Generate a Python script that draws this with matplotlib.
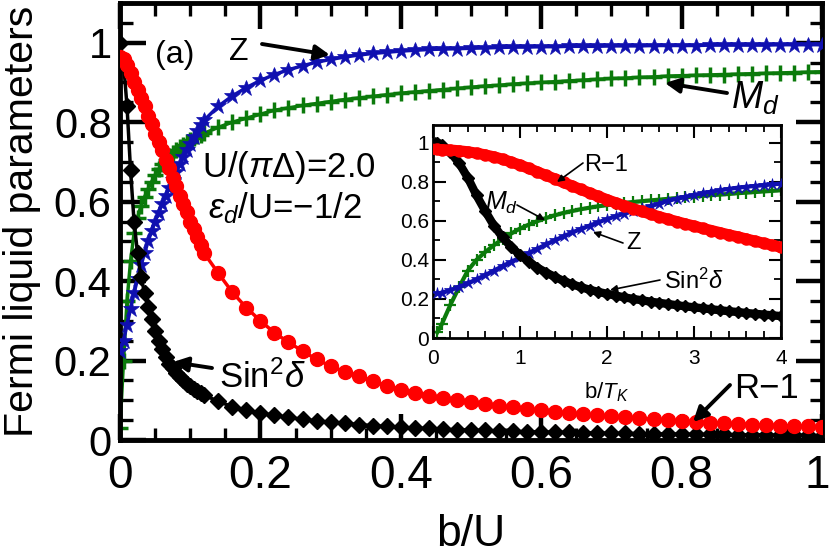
import matplotlib
matplotlib.use('Agg')
import matplotlib.pyplot as plt
import matplotlib.transforms as mtransforms
from matplotlib.ticker import MultipleLocator, FuncFormatter

plt.rcParams['font.family'] = ['Liberation Sans', 'DejaVu Sans']
plt.rcParams['mathtext.fontset'] = 'custom'
plt.rcParams['mathtext.rm'] = 'Liberation Sans'
plt.rcParams['mathtext.it'] = 'Liberation Sans:italic'
plt.rcParams['mathtext.bf'] = 'Liberation Sans:bold'

# ---------------- main panel data (x = b/U) ----------------
b_over_U = [0.000, 0.005, 0.010, 0.015, 0.020, 0.025, 0.030, 0.035, 0.040, 0.045,
            0.050, 0.055, 0.060, 0.065, 0.070, 0.075, 0.080, 0.085, 0.090, 0.095,
            0.100, 0.105, 0.110, 0.115, 0.120,
            0.14, 0.16, 0.18, 0.20, 0.22, 0.24, 0.26, 0.28, 0.30, 0.32, 0.34, 0.36,
            0.38, 0.40, 0.42, 0.44, 0.46, 0.48, 0.50, 0.52, 0.54, 0.56, 0.58, 0.60,
            0.62, 0.64, 0.66, 0.68, 0.70, 0.72, 0.74, 0.76, 0.78, 0.80, 0.82, 0.84,
            0.86, 0.88, 0.90, 0.92, 0.94, 0.96, 0.98, 1.00]

R_minus_1 = [0.965, 0.960, 0.945, 0.925, 0.900, 0.880, 0.860, 0.840, 0.815, 0.795,
             0.770, 0.750, 0.730, 0.705, 0.685, 0.660, 0.640, 0.615, 0.595, 0.575,
             0.550, 0.530, 0.510, 0.490, 0.470,
             0.420, 0.372, 0.333, 0.300, 0.270, 0.246, 0.224, 0.203, 0.186, 0.172,
             0.160, 0.148, 0.137, 0.127, 0.119, 0.112, 0.106, 0.100, 0.095, 0.090,
             0.086, 0.082, 0.078, 0.075, 0.071, 0.068, 0.065, 0.062, 0.060, 0.057,
             0.055, 0.052, 0.050, 0.048, 0.046, 0.044, 0.042, 0.041, 0.039, 0.038,
             0.036, 0.035, 0.034, 0.033]

sin2_delta = [1.000, 0.950, 0.840, 0.680, 0.550, 0.470, 0.410, 0.370, 0.335, 0.305,
              0.275, 0.250, 0.228, 0.208, 0.192, 0.180, 0.168, 0.158, 0.150, 0.142,
              0.135, 0.129, 0.123, 0.118, 0.113,
              0.097, 0.084, 0.075, 0.068, 0.062, 0.057, 0.052, 0.048, 0.045, 0.042,
              0.039, 0.036, 0.034, 0.032, 0.030, 0.029, 0.027, 0.026, 0.025, 0.024,
              0.023, 0.022, 0.021, 0.020, 0.020, 0.019, 0.018, 0.018, 0.017, 0.017,
              0.016, 0.016, 0.015, 0.015, 0.014, 0.014, 0.014, 0.013, 0.013, 0.013,
              0.012, 0.012, 0.012, 0.011]

Z_main = [0.225, 0.250, 0.290, 0.330, 0.370, 0.405, 0.440, 0.470, 0.500, 0.525,
          0.550, 0.572, 0.594, 0.615, 0.635, 0.655, 0.675, 0.694, 0.713, 0.730,
          0.746, 0.762, 0.777, 0.792, 0.805,
          0.840, 0.866, 0.887, 0.905, 0.920, 0.932, 0.942, 0.951, 0.958, 0.964,
          0.969, 0.973, 0.976, 0.979, 0.981, 0.983, 0.984, 0.985, 0.986, 0.987,
          0.988, 0.989, 0.989, 0.990, 0.990, 0.991, 0.991, 0.991, 0.992, 0.992,
          0.992, 0.993, 0.993, 0.993, 0.993, 0.994, 0.994, 0.994, 0.994, 0.994,
          0.995, 0.995, 0.995, 0.995]

Md_main = [0.030, 0.200, 0.350, 0.450, 0.520, 0.560, 0.590, 0.612, 0.632, 0.650,
           0.667, 0.682, 0.695, 0.705, 0.714, 0.722, 0.730, 0.737, 0.743, 0.749,
           0.754, 0.759, 0.764, 0.768, 0.772,
           0.787, 0.800, 0.810, 0.820, 0.830, 0.836, 0.842, 0.847, 0.852, 0.857,
           0.861, 0.865, 0.869, 0.873, 0.876, 0.879, 0.882, 0.885, 0.888, 0.891,
           0.893, 0.896, 0.898, 0.900, 0.902, 0.904, 0.906, 0.908, 0.910, 0.911,
           0.913, 0.914, 0.916, 0.917, 0.918, 0.919, 0.920, 0.921, 0.922, 0.923,
           0.924, 0.925, 0.926, 0.927]

# ---------------- inset data (x = b/T_K) ----------------
b_over_TK = [0.05, 0.1, 0.2, 0.3, 0.4, 0.5, 0.6, 0.7, 0.8, 0.9, 1.0, 1.1, 1.2, 1.3,
             1.4, 1.5, 1.6, 1.7, 1.8, 1.9, 2.0, 2.1, 2.2, 2.3, 2.4, 2.5, 2.6, 2.7,
             2.8, 2.9, 3.0, 3.1, 3.2, 3.3, 3.4, 3.5, 3.6, 3.7, 3.8, 3.9, 4.0]

R_inset = [0.965, 0.964, 0.962, 0.958, 0.953, 0.946, 0.937, 0.927, 0.915, 0.900,
           0.885, 0.868, 0.850, 0.832, 0.814, 0.796, 0.778, 0.760, 0.742, 0.725,
           0.708, 0.692, 0.677, 0.662, 0.648, 0.634, 0.621, 0.608, 0.596, 0.584,
           0.573, 0.561, 0.550, 0.539, 0.528, 0.518, 0.507, 0.496, 0.485, 0.475,
           0.464]

sin2_inset = [1.000, 0.990, 0.950, 0.895, 0.820, 0.730, 0.650, 0.575, 0.515, 0.465,
              0.425, 0.390, 0.360, 0.335, 0.313, 0.292, 0.275, 0.260, 0.247, 0.236,
              0.226, 0.217, 0.208, 0.200, 0.193, 0.186, 0.180, 0.174, 0.168, 0.162,
              0.157, 0.152, 0.147, 0.142, 0.137, 0.133, 0.128, 0.124, 0.120, 0.116,
              0.112]

Z_inset = [0.228, 0.232, 0.245, 0.262, 0.280, 0.300, 0.322, 0.345, 0.368, 0.390,
           0.412, 0.435, 0.457, 0.479, 0.500, 0.520, 0.540, 0.558, 0.575, 0.592,
           0.608, 0.623, 0.637, 0.650, 0.663, 0.675, 0.688, 0.702, 0.713, 0.723,
           0.732, 0.741, 0.749, 0.756, 0.763, 0.769, 0.774, 0.778, 0.782, 0.786,
           0.790]

Md_inset = [0.030, 0.070, 0.170, 0.260, 0.345, 0.400, 0.440, 0.475, 0.507, 0.535,
            0.560, 0.580, 0.598, 0.614, 0.628, 0.640, 0.650, 0.659, 0.667, 0.674,
            0.680, 0.686, 0.691, 0.696, 0.700, 0.704, 0.708, 0.712, 0.716, 0.720,
            0.724, 0.727, 0.731, 0.734, 0.737, 0.741, 0.744, 0.747, 0.750, 0.753,
            0.756]

RED = '#ff0000'
BLUE = '#1010b0'
GREEN = '#0b7a0b'
BLACK = '#000000'

W, H = 830, 559
fig = plt.figure(figsize=(W / 100, H / 100), dpi=100)


def P(x, y):
    """pixel position measured from the top-left corner -> figure pixels"""
    return (x, H - y)


def F(x, y):
    """pixel position measured from the top-left corner -> figure fraction"""
    return (x / W, 1 - y / H)


fmt = FuncFormatter(lambda v, p: '%g' % round(v, 3))

# ---------------- main axes ----------------
ax = fig.add_axes([120 / W, 1 - 440 / H, 702 / W, 437 / H])
ax.plot(b_over_U, Md_main, '-', color=GREEN, lw=2.5, marker='+', ms=12, mew=2.5, zorder=2)
ax.plot(b_over_U, Z_main, '-', color=BLUE, lw=2.5, marker='*', ms=12, mew=0.5, zorder=3)
ax.plot(b_over_U, sin2_delta, '-', color=BLACK, lw=2.5, marker='D', ms=8, zorder=4)
ax.plot(b_over_U, R_minus_1, '-', color=RED, lw=2.5, marker='o', ms=10, zorder=5)

ax.set_xlim(0, 1)
ax.set_ylim(0, 1.1)
ax.xaxis.set_major_locator(MultipleLocator(0.2))
ax.xaxis.set_minor_locator(MultipleLocator(0.05))
ax.yaxis.set_major_locator(MultipleLocator(0.2))
ax.yaxis.set_minor_locator(MultipleLocator(0.05))
ax.xaxis.set_major_formatter(fmt)
ax.yaxis.set_major_formatter(fmt)
ax.tick_params(which='both', direction='in', top=True, right=True)
ax.tick_params(which='major', length=19, width=3.2)
ax.tick_params(which='minor', length=9, width=2.4)
ax.tick_params(axis='x', which='major', pad=10, labelsize=33)
ax.tick_params(axis='y', which='major', pad=6, labelsize=30)
for s in ax.spines.values():
    s.set_linewidth(3.5)
ax.set_xlabel('b/U', fontsize=32)
ax.xaxis.set_label_coords(0.5, -0.17)
ax.set_ylabel('Fermi liquid parameters', fontsize=29.5)
ax.yaxis.set_label_coords(-0.112, 0.5)

# keep the last x tick label ("1") inside the canvas
fig.canvas.draw()
last_lbl = [t for t in ax.get_xticklabels() if t.get_text() == '1']
for t in last_lbl:
    t.set_transform(t.get_transform() +
                    mtransforms.ScaledTranslation(-5 / 100, 0, fig.dpi_scale_trans))

# main annotations
fig.text(*F(175, 55), '(a)', fontsize=23, ha='center', va='center')
fig.text(*F(239, 52), 'Z', fontsize=23, ha='center', va='center')
fig.text(*F(755, 98), '$M_d$', fontsize=27, ha='center', va='center')
fig.text(*F(289, 167), 'U/($\\pi\\Delta$)=2.0', fontsize=25, ha='center', va='center')
fig.text(*F(285, 208), '$\\epsilon_d$/U=\u22121/2', fontsize=25, ha='center', va='center')
fig.text(*F(262, 378), 'Sin$^2\\delta$', fontsize=25, ha='center', va='center')
fig.text(*F(766, 388), 'R\u22121', fontsize=25, ha='center', va='center')

big_arrow = dict(arrowstyle='-|>', lw=2.8, color='k', mutation_scale=22,
                 shrinkA=0, shrinkB=0)
for tail, head in [((262, 44), (330, 55)), ((727, 93), (665, 83)),
                   ((212, 368), (173, 362)), ((730, 385), (693, 422))]:
    ax.annotate('', xy=P(*head), xycoords='figure pixels', xytext=P(*tail),
                textcoords='figure pixels', arrowprops=big_arrow, zorder=10)

# ---------------- inset axes ----------------
ax2 = fig.add_axes([433 / W, 1 - 338 / H, 348 / W, 213 / H])
ax2.plot(b_over_TK, Md_inset, '-', color=GREEN, lw=3, marker='+', ms=9, mew=1.6, zorder=2)
ax2.plot(b_over_TK, Z_inset, '-', color=BLUE, lw=3, marker='*', ms=9, mew=0.5, zorder=3)
ax2.plot(b_over_TK, sin2_inset, '-', color=BLACK, lw=6, marker='D', ms=6, zorder=4)
ax2.plot(b_over_TK, R_inset, '-', color=RED, lw=8, marker='o', ms=8, zorder=5)
ax2.set_xlim(0, 4)
ax2.set_ylim(0, 1.09)
ax2.xaxis.set_major_locator(MultipleLocator(1))
ax2.xaxis.set_minor_locator(MultipleLocator(0.2))
ax2.yaxis.set_major_locator(MultipleLocator(0.2))
ax2.yaxis.set_minor_locator(MultipleLocator(0.1))
ax2.xaxis.set_major_formatter(fmt)
ax2.yaxis.set_major_formatter(fmt)
ax2.tick_params(which='both', direction='in', top=True, right=True)
ax2.tick_params(which='major', length=9, width=1.5, labelsize=15)
ax2.tick_params(which='minor', length=5, width=1.3)
ax2.tick_params(axis='x', which='major', pad=8)
ax2.tick_params(axis='y', which='major', pad=3)
for s in ax2.spines.values():
    s.set_linewidth(2)
ax2.set_xlabel('b/$T_K$', fontsize=16)
ax2.xaxis.set_label_coords(0.5, -0.2)

fig.text(*F(606, 165), 'R\u22121', fontsize=17, ha='center', va='center')
fig.text(*F(502, 203), '$M_d$', fontsize=18, ha='center', va='center')
fig.text(*F(633, 243), 'Z', fontsize=17, ha='center', va='center')
fig.text(*F(694, 281), 'Sin$^2\\delta$', fontsize=17, ha='center', va='center')

small_arrow = dict(arrowstyle='-|>', lw=1.2, color='k', mutation_scale=10,
                   shrinkA=0, shrinkB=0)
for tail, head in [((583, 163), (557, 182)), ((517, 205), (545, 220)),
                   ((623, 243), (593, 232)), ((660, 280), (610, 290))]:
    ax2.annotate('', xy=P(*head), xycoords='figure pixels', xytext=P(*tail),
                 textcoords='figure pixels', arrowprops=small_arrow, zorder=10,
                 annotation_clip=False)

fig.savefig('out.png', dpi=100)
